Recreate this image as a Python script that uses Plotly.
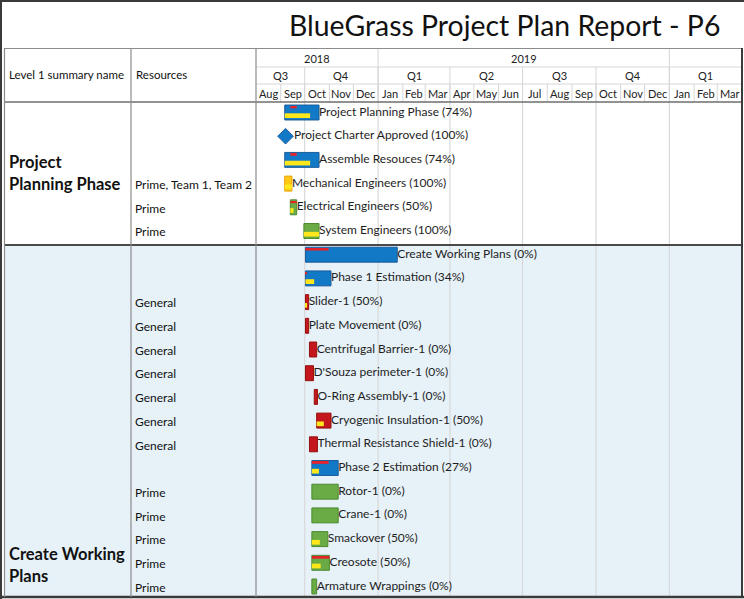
import plotly.graph_objects as go
import pandas as pd

W, H = 744, 599
FONT = "Lato"

# ---------------- data ----------------
title_text = "BlueGrass Project Plan Report - P6"
col_headers = ["Level 1 summary name", "Resources"]

group_lines = [["Project", "Planning Phase"], ["Create Working", "Plans"]]

tasks = ["Project Planning Phase", "Project Charter Approved", "Assemble Resouces",
         "Mechanical Engineers", "Electrical Engineers", "System Engineers",
         "Create Working Plans", "Phase 1 Estimation", "Slider-1", "Plate Movement",
         "Centrifugal Barrier-1", "D'Souza perimeter-1", "O-Ring Assembly-1",
         "Cryogenic Insulation-1", "Thermal Resistance Shield-1", "Phase 2 Estimation",
         "Rotor-1", "Crane-1", "Smackover", "Creosote", "Armature Wrappings"]
starts = ["2018-09-06", "2018-09-07", "2018-09-06", "2018-09-06", "2018-09-13", "2018-09-30",
          "2018-10-02", "2018-10-02", "2018-10-02", "2018-10-02", "2018-10-07", "2018-10-02",
          "2018-10-13", "2018-10-16", "2018-10-07", "2018-10-10", "2018-10-10", "2018-10-10",
          "2018-10-10", "2018-10-10", "2018-10-10"]
finishes = ["2018-10-19", "2018-09-07", "2018-10-19", "2018-09-15", "2018-09-21", "2018-10-19",
            "2019-01-25", "2018-11-03", "2018-10-06", "2018-10-06", "2018-10-16", "2018-10-12",
            "2018-10-17", "2018-11-03", "2018-10-17", "2018-11-12", "2018-11-12", "2018-11-12",
            "2018-10-30", "2018-11-01", "2018-10-16"]
percent = [74, 100, 74, 100, 50, 100, 0, 34, 50, 0, 0, 0, 0, 50, 0, 27, 0, 0, 50, 50, 0]
kinds = ["blue", "milestone", "blue", "orange", "green", "green",
         "blue", "blue", "red", "red", "red", "red", "red", "red", "red", "blue",
         "green", "green", "green", "green", "green"]
resources = ["", "", "", "Prime, Team 1, Team 2", "Prime", "Prime",
             "", "", "General", "General", "General", "General", "General", "General", "General", "",
             "Prime", "Prime", "Prime", "Prime", "Prime"]
red_starts = ["2018-09-13", None, "2018-09-13", None, "2018-09-13", None,
              "2018-10-02", "2018-10-02", None, None, None, None, None, None, None, "2018-10-10",
              None, None, None, "2018-10-10", None]
red_finishes = ["2018-09-21", None, "2018-09-21", None, "2018-09-21", None,
                "2018-10-31", "2018-10-04", None, None, None, None, None, None, None, "2018-10-31",
                None, None, None, "2018-11-01", None]

year_labels = ["2018", "2019", ""]
year_bounds = ["2018-08-01", "2019-01-01", "2020-01-01", "2020-04-01"]
quarter_labels = ["Q3", "Q4", "Q1", "Q2", "Q3", "Q4", "Q1"]
quarter_bounds = ["2018-08-01", "2018-10-01", "2019-01-01", "2019-04-01", "2019-07-01",
                  "2019-10-01", "2020-01-01", "2020-04-01"]
month_labels = ["Aug", "Sep", "Oct", "Nov", "Dec", "Jan", "Feb", "Mar", "Apr", "May", "Jun",
                "Jul", "Aug", "Sep", "Oct", "Nov", "Dec", "Jan", "Feb", "Mar"]

# ---------------- styling ----------------
COLORS = {
    "blue": ("#1279C6", "#1D5C9C"),
    "green": ("#6AAB45", "#4C8A30"),
    "red": ("#C3161D", "#96100F"),
    "orange": ("#FFC914", "#E8A000"),
}
YELLOW = "#FFE71C"
REDSTRIPE = "#E5232B"

def px(x):
    return x / W

def py(y):
    return 1 - y / H

ROW0 = 112.5
PITCH = 23.7
TOP = 102
BOTTOM = 599
y_top = (TOP - ROW0) / PITCH
y_bot = (BOTTOM - ROW0) / PITCH

fig = go.Figure()

rows = list(range(len(tasks)))

def dur_ms(s, f):
    return (pd.Timestamp(f) - pd.Timestamp(s)).total_seconds() * 1000.0

BAR_W = 0.63
# main bars
for kind, (fill, edge) in COLORS.items():
    idx = [i for i in rows if kinds[i] == kind]
    fig.add_trace(go.Bar(
        orientation="h", y=[i for i in idx],
        x=[dur_ms(starts[i], finishes[i]) for i in idx],
        base=[starts[i] for i in idx],
        width=BAR_W, offset=-BAR_W / 2,
        marker=dict(color=fill, line=dict(color=edge, width=1)),
        hoverinfo="skip", showlegend=False,
    ))

# progress (yellow)
pidx = [i for i in rows if kinds[i] != "milestone" and percent[i] > 0]
fig.add_trace(go.Bar(
    orientation="h", y=pidx,
    x=[dur_ms(starts[i], finishes[i]) * percent[i] / 100.0 for i in pidx],
    base=[starts[i] for i in pidx],
    width=0.2, offset=0.035,
    marker=dict(color=YELLOW, line=dict(width=0)),
    hoverinfo="skip", showlegend=False,
))

# red stripes
ridx = [i for i in rows if red_starts[i] is not None]
fig.add_trace(go.Bar(
    orientation="h", y=ridx,
    x=[dur_ms(red_starts[i], red_finishes[i]) for i in ridx],
    base=[red_starts[i] for i in ridx],
    width=0.08, offset=-0.255,
    marker=dict(color=REDSTRIPE, line=dict(width=0)),
    hoverinfo="skip", showlegend=False,
))

# milestone
midx = [i for i in rows if kinds[i] == "milestone"]
fig.add_trace(go.Scatter(
    x=[starts[i] for i in midx], y=midx, mode="markers+text",
    marker=dict(symbol="diamond", size=12, color="#1279C6", line=dict(color="#1D5C9C", width=1)),
    text=[f"{tasks[i]} ({percent[i]}%)" for i in midx], textposition="middle right",
    textfont=dict(family=FONT, size=12, color="#1E1E1E"),
    hoverinfo="skip", showlegend=False,
))

# task labels
tidx = [i for i in rows if kinds[i] != "milestone"]
fig.add_trace(go.Scatter(
    x=[finishes[i] for i in tidx], y=tidx, mode="text",
    text=[f"{tasks[i]} ({percent[i]}%)" for i in tidx], textposition="middle right",
    textfont=dict(family=FONT, size=12, color="#1E1E1E"),
    hoverinfo="skip", showlegend=False, cliponaxis=False,
))

shapes = []
ann = []

def hline(y, x0, x1, color, width=1):
    shapes.append(dict(type="line", xref="paper", yref="paper", x0=px(x0), x1=px(x1),
                       y0=py(y), y1=py(y), line=dict(color=color, width=width), layer="above"))

def vline(x, y0, y1, color, width=1):
    shapes.append(dict(type="line", xref="paper", yref="paper", x0=px(x), x1=px(x),
                       y0=py(y0), y1=py(y1), line=dict(color=color, width=width), layer="above"))

def vline_date(d, y0, y1, color, width=1, layer="above"):
    shapes.append(dict(type="line", xref="x", yref="paper", x0=d, x1=d,
                       y0=py(y0), y1=py(y1), line=dict(color=color, width=width), layer=layer))

# group 2 background
shapes.append(dict(type="rect", xref="paper", yref="paper", x0=px(4), x1=px(742),
                   y0=py(597), y1=py(245), fillcolor="#E6F1F8", line=dict(width=0), layer="below"))

# body quarter gridlines
for d in quarter_bounds[1:-1]:
    vline_date(d, TOP, 597, "#D9D9D9", 1.2, layer="below")

# header grid
LIGHT = "#D6D6D6"
hline(67, 256, 742, LIGHT)
hline(84, 256, 742, LIGHT)
for d in year_bounds[1:-1]:
    vline_date(d, 48, 102, LIGHT)
for d in quarter_bounds[1:-1]:
    vline_date(d, 67, 102, LIGHT)
for d in pd.date_range("2018-09-01", "2020-03-01", freq="MS"):
    vline_date(d.strftime("%Y-%m-%d"), 84, 102, LIGHT)

# table borders
hline(48.5, 4, 742, "#8C8C8C", 1.2)
hline(102, 4, 742, "#6E6E6E", 1.5)
hline(245, 4, 742, "#4A4A4A", 2)
hline(597, 0, 744, "#3A3A3A", 2.5)
vline(4.5, 48, 597, "#8C8C8C", 1.2)
vline(131, 48, 597, "#8C8C8C", 1.2)
vline(256, 48, 597, "#8C8C8C", 1.2)
vline(742, 48, 597, "#3A3A3A", 2)
# outer frame
vline(1, 0, 599, "#3A3A3A", 2)
hline(1, 0, 744, "#3A3A3A", 2)

# title
ann.append(dict(text=title_text, x=px(722), y=py(25), xref="paper", yref="paper",
                xanchor="right", yanchor="middle", showarrow=False,
                font=dict(family=FONT, size=28.4, color="#111111")))

# column headers
ann.append(dict(text=col_headers[0], x=px(7), y=py(75), xref="paper", yref="paper",
                xanchor="left", yanchor="middle", showarrow=False,
                font=dict(family=FONT, size=11.5, color="#111111")))
ann.append(dict(text=col_headers[1], x=px(134), y=py(75), xref="paper", yref="paper",
                xanchor="left", yanchor="middle", showarrow=False,
                font=dict(family=FONT, size=11.5, color="#111111")))

def mid(a, b):
    ta, tb = pd.Timestamp(a), pd.Timestamp(b)
    return (ta + (tb - ta) / 2).strftime("%Y-%m-%d %H:%M")

for i, lab in enumerate(year_labels):
    if lab:
        ann.append(dict(text=lab, x=mid(year_bounds[i], year_bounds[i + 1]), y=py(58),
                        xref="x", yref="paper", showarrow=False, yanchor="middle",
                        font=dict(family=FONT, size=11, color="#222222")))
for i, lab in enumerate(quarter_labels):
    ann.append(dict(text=lab, x=mid(quarter_bounds[i], quarter_bounds[i + 1]), y=py(75.5),
                    xref="x", yref="paper", showarrow=False, yanchor="middle",
                    font=dict(family=FONT, size=11, color="#222222")))
mstarts = pd.date_range("2018-08-01", periods=len(month_labels) + 1, freq="MS")
for i, lab in enumerate(month_labels):
    ann.append(dict(text=lab, x=mid(mstarts[i], mstarts[i + 1]), y=py(93),
                    xref="x", yref="paper", showarrow=False, yanchor="middle",
                    font=dict(family=FONT, size=11, color="#222222")))

# group names
group_line_y = [[162, 184], [554, 576]]
for g, lines in enumerate(group_lines):
    for k, line in enumerate(lines):
        ann.append(dict(text=f"<b>{line}</b>", x=px(7), y=py(group_line_y[g][k]),
                        xref="paper", yref="paper", xanchor="left", yanchor="middle",
                        showarrow=False, font=dict(family=FONT, size=16.5, color="#111111")))

# resources
for i in rows:
    if resources[i]:
        ann.append(dict(text=resources[i], x=px(133), y=i + 0.03, xref="paper", yref="y",
                        xanchor="left", yanchor="middle", showarrow=False,
                        font=dict(family=FONT, size=12, color="#111111")))

fig.update_layout(
    width=W, height=H, autosize=False,
    margin=dict(l=0, r=0, t=0, b=0),
    paper_bgcolor="white", plot_bgcolor="rgba(0,0,0,0)",
    barmode="overlay", showlegend=False,
    xaxis=dict(type="date", range=["2018-08-01", "2020-04-01"], domain=[px(256), px(742)],
               showgrid=False, zeroline=False, showticklabels=False, ticks="", fixedrange=True),
    yaxis=dict(range=[y_bot, y_top], domain=[0, py(TOP)], showgrid=False, zeroline=False,
               showticklabels=False, ticks="", fixedrange=True),
    shapes=shapes, annotations=ann,
)

fig.write_html("out.html", config={"displayModeBar": False},
               post_script="document.body.style.margin='0';document.body.style.overflow='hidden';")
